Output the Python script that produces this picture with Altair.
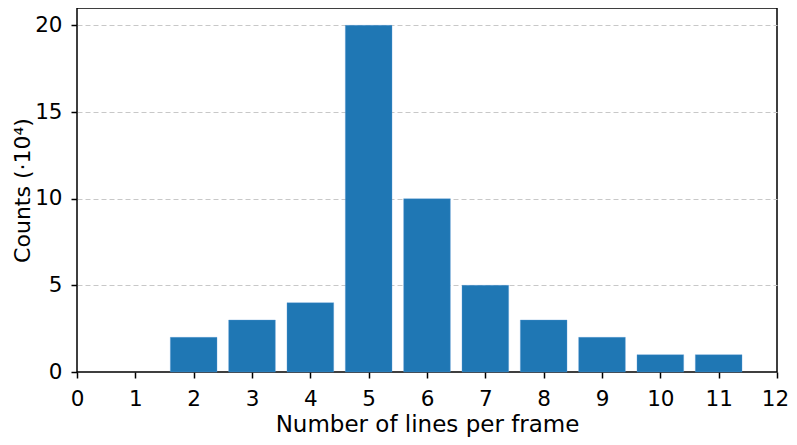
import altair as alt
import pandas as pd

lines_per_frame = [2, 3, 4, 5, 6, 7, 8, 9, 10, 11]
counts = [2, 3, 4, 20, 10, 5, 3, 2, 1, 1]

df = pd.DataFrame({"n": lines_per_frame, "count": counts})

FONT = "DejaVu Sans"
LFS = 21.5
TFS = 23

x_scale = alt.Scale(domain=[0, 12], nice=False, zero=False)
y_scale = alt.Scale(domain=[0, 21], nice=False)

common = dict(
    tickSize=6,
    tickWidth=1.5,
    tickColor="black",
    domain=False,
    labelFont=FONT,
    titleFont=FONT,
    labelFontSize=LFS,
    labelColor="black",
    titleColor="black",
    titleFontWeight="normal",
    labelFlush=False,
)

bars = (
    alt.Chart(df)
    .transform_calculate(x0="datum.n - 0.4", x1="datum.n + 0.4", base="0")
    .mark_bar(color="#1f77b4", stroke="#5b9bd5", strokeWidth=0.6, strokeOpacity=0.6)
    .encode(
        x=alt.X(
            "x0:Q",
            scale=x_scale,
            axis=alt.Axis(
                title="Number of lines per frame",
                values=list(range(0, 13)),
                format="d",
                grid=False,
                labelPadding=10,
                labelOffset={"condition": {"test": "datum.value === 12", "value": -2}, "value": 0},
                titlePadding=4,
                titleFontSize=TFS,
                **common,
            ),
        ),
        x2="x1:Q",
        y=alt.Y(
            "count:Q",
            scale=y_scale,
            axis=alt.Axis(
                title="Counts (·10⁴)",
                values=[0, 5, 10, 15, 20],
                grid=True,
                gridDash=[5, 3],
                gridColor="#c8c8c8",
                gridWidth=1,
                gridOpacity={"condition": {"test": "datum.value === 0", "value": 0}, "value": 1},
                labelPadding=9,
                titlePadding=0,
                titleFontSize=22,
                **common,
            ),
        ),
        y2="base:Q",
    )
)

chart = (
    bars.properties(
        width=700,
        height=364,
        autosize=alt.AutoSizeParams(type="none"),
        padding={"left": 69, "top": 0, "right": 12, "bottom": 65},
    )
    .configure_view(stroke="black", strokeWidth=1.5)
)

chart.save("out.html", embed_options={"renderer": "svg", "actions": False})
